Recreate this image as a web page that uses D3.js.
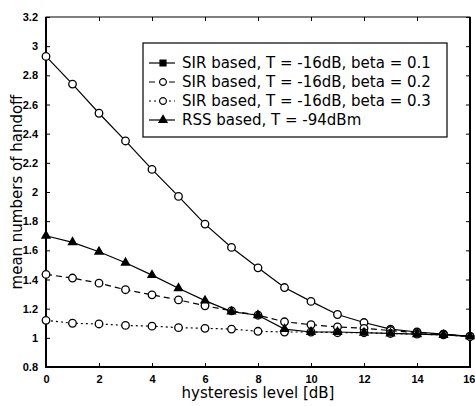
<!DOCTYPE html>
<head>
<meta charset="utf-8">
<style>
body { margin: 0; background: #fff; }
svg { display: block; }
.tick text { font: bold 11px "Liberation Sans", Arial, sans-serif; fill: #000; }
.tick line { stroke: #000; }
.lbl { font: 15px "DejaVu Sans", sans-serif; fill: #000; }
.leg { font: 15px "DejaVu Sans", sans-serif; fill: #000; }
</style>
</head>
<body>
<svg width="475" height="406"></svg>
<script src="https://d3js.org/d3.v7.min.js"></script>
<script>
var hyst = [0,1,2,3,4,5,6,7,8,9,10,11,12,13,14,15,16];
var sirBeta01 = [2.93,2.74,2.54,2.35,2.155,1.97,1.78,1.62,1.48,1.345,1.25,1.16,1.105,1.06,1.04,1.025,1.01];
var sirBeta02 = [1.435,1.41,1.375,1.33,1.295,1.26,1.22,1.185,1.155,1.11,1.09,1.075,1.065,1.05,1.035,1.025,1.01];
var sirBeta03 = [1.12,1.10,1.095,1.085,1.08,1.07,1.065,1.06,1.045,1.04,1.04,1.035,1.035,1.03,1.025,1.02,1.01];
var rss = [1.70,1.655,1.59,1.515,1.43,1.34,1.255,1.18,1.155,1.06,1.04,1.04,1.035,1.03,1.025,1.02,1.01];
var xTicks = [0,2,4,6,8,10,12,14,16];
var yTicks = [0.8,1,1.2,1.4,1.6,1.8,2,2.2,2.4,2.6,2.8,3,3.2];
var legendLabels = ["SIR based, T = -16dB, beta = 0.1","SIR based, T = -16dB, beta = 0.2","SIR based, T = -16dB, beta = 0.3","RSS based, T = -94dBm"];

var svg = d3.select("svg");
var x = d3.scaleLinear().domain([0,16]).range([46,470]);
var y = d3.scaleLinear().domain([0.8,3.2]).range([367,17]);

// axes, ticks pointing inward like matlab
svg.append("g").attr("transform","translate(0,367)")
  .call(d3.axisBottom(x).tickValues(xTicks).tickSizeInner(-4).tickSizeOuter(0).tickPadding(8).tickFormat(d3.format("d")))
  .call(function(g){
    g.select(".domain").remove();
    // last label would run off the page, pull it in
    g.selectAll(".tick text").filter(function(d){ return d === 16; }).attr("text-anchor","end").attr("dx","5");
  });
svg.append("g").attr("transform","translate(0,17)")
  .call(d3.axisTop(x).tickValues(xTicks).tickSizeInner(-4).tickSizeOuter(0).tickFormat(""))
  .call(function(g){ g.select(".domain").remove(); });
svg.append("g").attr("transform","translate(46,0)")
  .call(d3.axisLeft(y).tickValues(yTicks).tickSizeInner(-4).tickSizeOuter(0).tickPadding(8).tickFormat(d3.format("")))
  .call(function(g){ g.select(".domain").remove(); });
svg.append("g").attr("transform","translate(470,0)")
  .call(d3.axisRight(y).tickValues(yTicks).tickSizeInner(-4).tickSizeOuter(0).tickFormat(""))
  .call(function(g){ g.select(".domain").remove(); });

svg.append("rect").attr("x",46).attr("y",17).attr("width",424).attr("height",350)
  .attr("fill","none").attr("stroke","#000").attr("stroke-width",1);
svg.append("path").attr("d","M46,17V367H470V17").attr("fill","none").attr("stroke","#000").attr("stroke-width",2);

var series = [
  {vals: sirBeta01, dash: null, mark: "circle"},
  {vals: sirBeta02, dash: "6,4", mark: "circle"},
  {vals: sirBeta03, dash: "2,3", mark: "circle"},
  {vals: rss, dash: null, mark: "triangle"}
];
var line = d3.line().x(function(d,i){ return x(hyst[i]); }).y(function(d){ return y(d); });

series.forEach(function(s){
  svg.append("path").datum(s.vals).attr("d",line)
    .attr("fill","none").attr("stroke","#000").attr("stroke-width",1.2)
    .attr("stroke-dasharray",s.dash);
  var sym = s.mark === "triangle" ? d3.symbolTriangle : d3.symbolCircle;
  svg.selectAll(null).data(s.vals).enter().append("path")
    .attr("transform",function(d,i){ return "translate(" + x(hyst[i]) + "," + y(d) + ")"; })
    .attr("d", d3.symbol().type(sym).size(s.mark === "triangle" ? 28 : 45))
    .attr("fill", s.mark === "triangle" ? "#000" : "#fff")
    .attr("stroke","#000").attr("stroke-width",1.3);
});

// legend
var leg = svg.append("g");
leg.append("rect").attr("x",143).attr("y",43).attr("width",304).attr("height",94)
  .attr("fill","#fff").attr("stroke","#000").attr("stroke-width",1.2);
legendLabels.forEach(function(t,i){
  var ly = 63 + i*19;
  var s = series[i];
  leg.append("line").attr("x1",149).attr("x2",175).attr("y1",ly).attr("y2",ly)
    .attr("stroke","#000").attr("stroke-width",1.2).attr("stroke-dasharray",s.dash);
  var sym = i === 3 ? d3.symbolTriangle : (i === 0 ? d3.symbolSquare : d3.symbolCircle);
  leg.append("path").attr("transform","translate(163," + ly + ")")
    .attr("d", d3.symbol().type(sym).size(i === 3 ? 28 : 36))
    .attr("fill", i === 0 || i === 3 ? "#000" : "#fff")
    .attr("stroke","#000").attr("stroke-width",1.2);
  leg.append("text").attr("class","leg").attr("x",182).attr("y",ly + 5).text(t);
});

svg.append("text").attr("class","lbl").attr("text-anchor","middle")
  .attr("x",258).attr("y",398).text("hysteresis level [dB]");
svg.append("text").attr("class","lbl").attr("text-anchor","middle")
  .attr("transform","translate(22,192) rotate(-90)").text("mean numbers of handoff");
</script>
</body>
